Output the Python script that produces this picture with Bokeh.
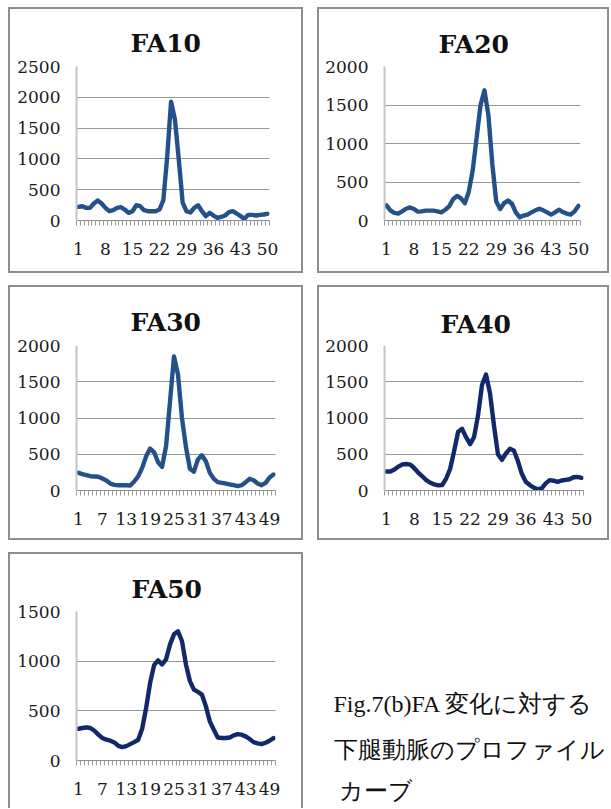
from bokeh.plotting import figure
from bokeh.models import Range1d, FixedTicker, SingleIntervalTicker, ColumnDataSource
from bokeh.layouts import row, column
from bokeh.embed import file_html
from bokeh.resources import INLINE
from bokeh.core.properties import value

# ---------------- data ----------------
categories = list(range(1, 51))

fa10 = [221, 232, 205, 205, 275, 324, 275, 205, 151, 167,
        205, 216, 178, 124, 151, 248, 232, 167, 151, 151,
        151, 178, 330, 1040, 1930, 1640, 990, 290, 150, 130,
        205, 248, 151, 70, 124, 81, 43, 60, 81, 135,
        151, 113, 70, 27, 92, 92, 81, 92, 97, 108]

fa20 = [196, 132, 98, 89, 119, 153, 170, 149, 115, 119,
        128, 128, 128, 119, 106, 140, 183, 276, 319, 289,
        225, 374, 650, 1075, 1500, 1690, 1370, 735, 246, 149,
        225, 259, 217, 106, 42, 64, 77, 106, 132, 153,
        132, 106, 77, 106, 140, 110, 89, 77, 119, 191]

fa30 = [243, 225, 211, 197, 193, 190, 165, 138, 96, 78,
        73, 73, 73, 69, 124, 197, 312, 472, 578, 527,
        390, 326, 610, 1230, 1850, 1600, 1000, 600, 300, 260,
        427, 486, 404, 243, 161, 115, 105, 96, 83, 73,
        60, 73, 115, 161, 142, 96, 73, 105, 179, 220]

fa40 = [263, 263, 290, 330, 360, 365, 356, 307, 245, 196,
        142, 107, 85, 71, 76, 165, 300, 545, 810, 850,
        735, 640, 735, 1035, 1455, 1600, 1345, 900, 500, 423,
        510, 575, 552, 410, 230, 120, 75, 40, 18, 30,
        98, 143, 135, 120, 138, 147, 155, 183, 187, 174]

fa50 = [320, 327, 334, 327, 300, 260, 226, 209, 199, 182,
        148, 135, 145, 165, 185, 209, 320, 529, 782, 960,
        1008, 967, 1018, 1169, 1270, 1300, 1203, 967, 799, 714,
        690, 664, 546, 394, 310, 232, 226, 226, 232, 253,
        266, 260, 243, 216, 185, 172, 165, 179, 199, 226]

titles = ["FA10", "FA20", "FA30", "FA40", "FA50"]
y_max = [2500, 2000, 2000, 2000, 1500]
x_labels_7 = ["1", "8", "15", "22", "29", "36", "43", "50"]
x_labels_6 = ["1", "7", "13", "19", "25", "31", "37", "43", "49"]
caption_lines = ["Fig.7(b)FA  変化に対する", "下腿動脈のプロファイル", "カーブ"]

BLUE = "#25518b"
NAVY = "#11296a"
GRID = "#979797"
TXT = "#1a1a1a"
SERIF = "DejaVu Serif"
CAP_FONT = "Liberation Serif"


def make_panel(title, vals, ymax, color, labels, w, h, bl, br, bt, bb, toff, tstand, no_bottom=False):
    p = figure(width=w, height=h, x_range=Range1d(0.5, 50.5), y_range=Range1d(0, ymax),
               toolbar_location=None, output_backend="svg", title=title,
               min_border_left=bl, min_border_right=br, min_border_top=bt, min_border_bottom=bb)
    p.border_fill_color = None
    p.background_fill_color = "white"
    p.outline_line_color = None
    if no_bottom:
        p.styles = {"box-shadow": "inset 2px 2px 0 0 #8e8e8e, inset -2px 0 0 0 #8e8e8e"}
    else:
        p.styles = {"box-shadow": "inset 0 0 0 2px #8e8e8e"}

    p.title.align = "left"
    p.title.offset = toff
    p.title.text_font = SERIF
    p.title.text_font_style = "bold"
    p.title.text_font_size = "25px"
    p.title.text_color = "#111111"
    p.title.standoff = tstand

    src = ColumnDataSource(dict(x=categories, y=vals))
    p.line("x", "y", source=src, line_color=color, line_width=4.4, line_join="round", line_cap="round")

    # y axis
    yax = p.yaxis[0]
    yax.ticker = SingleIntervalTicker(interval=500, num_minor_ticks=0)
    yax.axis_line_color = "#c4c4c4"
    yax.axis_line_width = 2
    yax.major_tick_line_color = None
    yax.major_tick_out = 0
    yax.major_tick_in = 0
    yax.minor_tick_line_color = None
    yax.major_label_standoff = 16
    yax.major_label_text_font = SERIF
    yax.major_label_text_font_size = "17px"
    yax.major_label_text_color = TXT

    # x axis
    pos = [int(s) for s in labels]
    xax = p.xaxis[0]
    xax.ticker = FixedTicker(ticks=pos, minor_ticks=[i + 0.5 for i in range(0, 51)])
    xax.major_label_overrides = {k: s for k, s in zip(pos, labels)}
    xax.axis_line_color = "#8e8e8e"
    xax.axis_line_width = 1
    xax.major_tick_line_color = None
    xax.major_tick_out = 5
    xax.major_tick_in = 0
    xax.minor_tick_line_color = "#9a9a9a"
    xax.minor_tick_out = 5
    xax.minor_tick_in = 0
    xax.major_label_standoff = 17
    xax.major_label_text_font = SERIF
    xax.major_label_text_font_size = "17px"
    xax.major_label_text_color = TXT

    p.xgrid.visible = False
    p.ygrid.grid_line_color = GRID
    p.ygrid.grid_line_width = 1
    p.ygrid.ticker = SingleIntervalTicker(interval=500, num_minor_ticks=0)
    return p


p1 = make_panel(titles[0], fa10, y_max[0], BLUE, x_labels_7, 295, 266, 68, 34, 59, 53, 54, 17)
p2 = make_panel(titles[1], fa20, y_max[1], BLUE, x_labels_7, 292, 266, 67, 29, 56, 53, 54, 16)
p3 = make_panel(titles[2], fa30, y_max[2], BLUE, x_labels_6, 295, 255, 68, 28, 60, 50, 54, 17)
p4 = make_panel(titles[3], fa40, y_max[3], NAVY, x_labels_7, 292, 255, 67, 26, 55, 50, 56, 14)
p5 = make_panel(titles[4], fa50, y_max[4], NAVY, x_labels_6, 295, 256, 68, 28, 59, 48, 55, 16, no_bottom=True)

# caption figure: its frame is aligned with the FA50 frame by the row layout (frame height 149)
pc = figure(width=292, height=256, x_range=Range1d(0, 292), y_range=Range1d(0, 149),
            toolbar_location=None, output_backend="svg", y_axis_type=None,
            min_border_left=0, min_border_right=0, min_border_top=59, min_border_bottom=48)
pc.outline_line_color = None
pc.border_fill_color = None
pc.background_fill_color = None
pc.grid.visible = False
cap_src = ColumnDataSource(dict(x=[16, 16], y=[57, 11], text=caption_lines[:2]))
pc.text(x="x", y="y", text="text", source=cap_src, text_align="left", text_baseline="alphabetic",
        text_font=value(CAP_FONT), text_font_size="24px", text_color="#111111")
# third caption line drawn as the single tick label of the caption's bottom axis
cax = pc.xaxis[0]
cax.ticker = FixedTicker(ticks=[16], minor_ticks=[])
cax.major_label_overrides = {16: caption_lines[2]}
cax.major_label_text_align = "left"
cax.major_label_text_font = CAP_FONT
cax.major_label_text_font_size = "24px"
cax.major_label_text_color = "#111111"
cax.major_label_standoff = 17
cax.major_tick_out = 0
cax.major_tick_in = 0
cax.major_tick_line_color = None
cax.minor_tick_line_color = None
cax.axis_line_color = None

layout = column(row(p1, p2, spacing=14), row(p3, p4, spacing=14), row(p5, pc, spacing=14),
                spacing=12, styles={"margin-left": "8px", "margin-top": "7px"})

open("out.html", "w").write(file_html(layout, INLINE))
